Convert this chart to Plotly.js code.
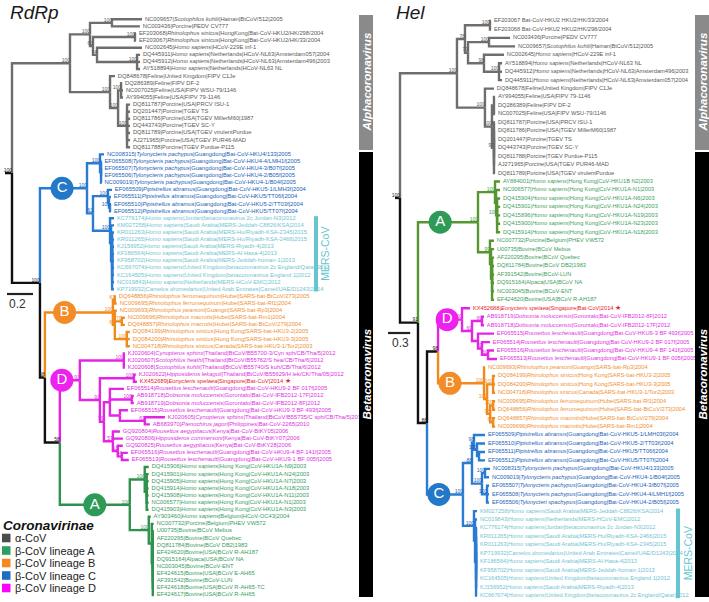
<!DOCTYPE html>
<html><head><meta charset="utf-8">
<script src="https://cdn.plot.ly/plotly-3.0.1.min.js"></script>
<style>html,body{margin:0;padding:0;background:#fff;}#chart{width:709px;height:602px;}</style>
</head><body><div id="chart"></div>
<script>
// ================= DATA =================
const rdrpLabels = [
"NC009657|Scotophilus kuhlii|Hainan|BtCoV/512|2005","NC003436|Porcine|PEDV CV777",
"EF203068|Rhinolophus sinicus|HongKong|Bat-CoV-HKU2/HK/298/2004","EF203067|Rhinolophus sinicus|HongKong|Bat-CoV-HKU2/HK/33/2004",
"NC002645|Homo sapiens|HCoV-229E inf-1","DQ445911|Homo sapiens|Netherlands|HCoV-NL63|Amsterdam057|2004",
"DQ445912|Homo sapiens|Netherlands|HCoV-NL63|Amsterdam496|2003","AY518894|Homo sapiens|Netherlands|HCoV-NL63 NL",
"DQ848678|Feline|United Kingdom|FIPV C1Je","DQ286389|Feline|FIPV DF-2","NC007025|Feline|USA|FIPV WSU-79/1146",
"AY994055|Feline|USA|FIPV 79-1146","DQ811787|Porcine|USA|PRCV ISU-1","DQ201447|Porcine|TGEV TS",
"DQ811786|Porcine|USA|TGEV MillerM60|1987","DQ443743|Porcine|TGEV SC-Y","DQ811789|Porcine|USA|TGEV virulentPurdue",
"AJ271965|Porcine|USA|TGEV PUR46-MAD","DQ811788|Porcine|TGEV Purdue-P115",
"NC008315|Tylonycteris pachypus|Guangdong|Bat-CoV-HKU4/133|2005","EF065508|Tylonycteris pachypus|Guangdong|Bat-CoV-HKU4-4/LMH1f|2005",
"EF065507|Tylonycteris pachypus|Guangdong|Bat-CoV-HKU4-3/B07f|2005","EF065506|Tylonycteris pachypus|Guangdong|Bat-CoV-HKU4-2/B05f|2005",
"NC009019|Tylonycteris pachypus|Guangdong|Bat-CoV-HKU4-1/B04f|2005","EF065509|Pipistrellus abramus|Guangdong|Bat-CoV-HKU5-1/LMH3f|2004",
"EF065511|Pipistrellus abramus|Guangdong|Bat-CoV-HKU5/TT06f|2004","EF065510|Pipistrellus abramus|Guangdong|Bat-CoV-HKU5-2/TT03f|2004",
"EF065512|Pipistrellus abramus|Guangdong|Bat-CoV-HKU5/TT07f|2004",
"KC776174|Homo sapiens|Jordan|betacoronavirus 2c Jordan-N3|2012","KM027258|Homo sapiens|Saudi Arabia|MERS-Jeddah-C8826/KSA|2014",
"KR011263|Homo sapiens|Saudi Arabia|MERS-Hu/Riyadh-KSA-2345|2015","KR011265|Homo sapiens|Saudi Arabia|MERS-Hu/Riyadh-KSA-2466|2015",
"KJ156952|Homo sapiens|Saudi Arabia|MERS-Riyadh-4|2013","KF186564|Homo sapiens|Saudi Arabia|MERS-Al-Hasa-4|2013",
"KF958702|Homo sapiens|Saudi Arabia|MERS-Jeddah-human-1|2013","KC667074|Homo sapiens|United Kingdom|betacoronavirus 2c England/Qatar|2012",
"KC164505|Homo sapiens|United Kingdom|betacoronavirus England 1|2012","NC019843|Homo sapiens|Netherlands|MERS-HCoV-EMC|2012",
"KP719932|Camelus dromedarius|United Arab Emirates|Camel/UAE/D1243|2014",
"DQ648856|Rhinolophus ferrumequinum|Hubei|SARS-bat-BtCoV/273|2005","NC009695|Rhinolophus ferrumequinum|Hubei|SARS-bat-Rf1|2004",
"NC009693|Rhinolophus pearsoni|Guangxi|SARS-bat-Rp3|2004","NC009696|Rhinolophus macrotis|Hubei|SARS-bat-Rm1|2004",
"DQ648857|Rhinolophus macrotis|Hubei|SARS-bat-BtCoV/279|2004","DQ084199|Rhinolophus sinicus|Hong Kong|SARS-bat-HKU3-2|2005",
"DQ084200|Rhinolophus sinicus|Hong Kong|SARS-bat-HKU3-3|2005","NC004718|Rhinolophus sinicus|Canada|SARS-bat-HKU3-1/Tor2|2003",
"KJ020604|Cynopterus sphinx|Thailand|BtCoV/B55700-3/Cyn sph/CB/Tha/5|2012","KJ020607|Scotophilus heathi|Thailand|BtCoV/B55762/S hea/CB/Tha/6|2012",
"KJ020608|Scotophilus kuhlii|Thailand|BtCoV/B55740/S kuh/CB/Tha/6|2012","KJ020622|Hipposideros lekaguli|Thailand|BtCoV/B55629/H lek/CK/Tha/05|2012",
"KX452689|Eonycteris spelaea|Singapore|Bat-CoV|2014","EF065514|Rousettus leschenaulti|Guangdong|Bat-CoV-HKU9-2 BF 017f|2005",
"AB918718|Dobsonia moluccensis|Gorontalo|Bat-CoV-IFB2012-17F|2012","AB918719|Dobsonia moluccensis|Gorontalo|Bat-CoV-IFB2012-8F|2012",
"EF065515|Rousettus leschenaulti|Guangdong|Bat-CoV-HKU9-3 BF 493f|2005","KJ020605|Cynopterus sphinx|Thailand|BtCoV/B55735/C sph/CB/Tha/5|2012",
"AB683970|Ptenochirus jagori|Philippines|Bat-CoV-2265|2010","GQ920804|Rousettus aegyptiacus|Kenya|Bat-CoV-BtKY05|2006",
"GQ920806|Hipposideros commersoni|Kenya|Bat-CoV-BtKY07|2006","GQ920825|Rousettus aegyptiacus|Kenya|Bat-CoV-BtKY28|2006",
"EF065516|Rousettus leschenaulti|Guangdong|Bat-CoV-HKU9-4 BF 141f|2005","EF065513|Rousettus leschenaulti|Guangdong|Bat-CoV-HKU9-1 BF 005f|2005",
"DQ415906|Homo sapiens|Hong Kong|CoV-HKU1A-N9|2003","DQ415901|Homo sapiens|Hong Kong|CoV-HKU1A-N24|2003",
"DQ415905|Homo sapiens|Hong Kong|CoV-HKU1A-N7|2003","DQ415914|Homo sapiens|Hong Kong|CoV-HKU1A-N18|2003",
"DQ415908|Homo sapiens|Hong Kong|CoV-HKU1A-N11|2003","NC006577|Homo sapiens|Hong Kong|CoV-HKU1A-N1|2003",
"DQ415903|Homo sapiens|Hong Kong|CoV-HKU1A-N3|2003","AY903460|Homo sapiens|Belgium|HCoV-OC43|2004",
"NC007732|Porcine|Belgium|PHEV VW572","U00735|Bovine|BCoV Mebus","AF220295|Bovine|BCoV Quebec","DQ811784|Bovine|BCoV DB2|1983",
"EF424620|Bovine|USA|BCoV R-AH187","DQ915164|Alpaca|USA|BCoV NA","NC003045|Bovine|BCoV-ENT","EF424615|Bovine|USA|BCoV E-AH65",
"AF391542|Bovine|BCoV-LUN","EF424618|Bovine|USA|BCoV R-AH65-TC","EF424617|Bovine|USA|BCoV R-AH65"
];
// RdRp tree: tips are indices into rdrpLabels; internal labels = bootstrap support (#clade start); lengths in substitutions/site
const rdrpTree = `(
 (((0:0.231,1:0.215)100:0.169,((2:0.008,3:0.008)100:0.323,(4:0.346,(5:0.023,6:0.023,7:0.023)100:0.308)74:0.031)63:0.023)100:0.154,
  (8:0.038,((9:0.008,10:0.015,11:0.015)100:0.023,(12:0.023,13:0.023,14:0.023,15:0.023,16:0.023,17:0.023,18:0.023)100:0.069)100:0.062)100:0.308)100#a:0.446,
 (((19:0.031,(20:0.004,21:0.004,22:0.004,23:0.004):0.008)100:0.1,
   ((24:0.031,(25:0.015,(26:0.008,27:0.008)100:0.008):0.008)100:0.115,
    (28:0.031,(29:0.023,(30:0.015,31:0.015,32:0.015,33:0.015,34:0.015,35:0.015,36:0.015,37:0.015,38:0.015):0.008):0.008)100:0.131)63:0.046)100#C:0.362,
  (((39:0.008,40:0.015)83:0.015,(41:0.015,(42:0.023,43:0.023)70:0.054,(44:0.023,45:0.023,46:0.023)100:0.092)62:0.015)100#B:0.523,
   (((47:0.008,48:0.008,49:0.008)100:0.338,
     ((50:0.015,51:0.023)100:0.262,
      ((52:0.108,(53:0.015,54:0.015)100:0.169,(55:0.062,(56:0.154,57:0.038)81:0.192):0.077):0.046,
       (58:0.054,59:0.077,(60:0.038,(61:0.046,62:0.054)54:0.031)61:0.038)57:0.069)59:0.031)93:0.154)93#D:0.154,
    ((63:0.031,(64:0.015,65:0.015,66:0.015,67:0.015,68:0.015,69:0.015):0.015)100:0.115,
     (70:0.015,(71:0.015,(72:0.008,73:0.008,74:0.008,75:0.008,76:0.008,77:0.008,78:0.008,79:0.008,80:0.008,81:0.008):0.008):0.023)100:0.146)100#A:0.538)58:0.115)58:0.038)100:0.215
)100:0.054;`;
const rdrpMersTips = [28,29,30,31,32,33,34,35,36,37,38];
const rdrpNewTip = 51;

const helLabels = [
"EF203067 Bat-CoV-HKU2 HKU2/HK/33/2004","EF203068 Bat-CoV-HKU2 HKU2/HK/298/2004","NC003436|Porcine|PEDV CV777",
"NC009657|Scotophilus kuhlii|Hainan|BtCoV/512|2005","NC002645|Homo sapiens|HCoV-229E inf-1",
"AY518894|Homo sapiens|Netherlands|HCoV-NL63 NL","DQ445912|Homo sapiens|Netherlands|HCoV-NL63|Amsterdam496|2003",
"DQ445911|Homo sapiens|Netherlands|HCoV-NL63|Amsterdam057|2004","DQ848678|Feline|United Kingdom|FIPV C1Je",
"AY994055|Feline|USA|FIPV 79-1146","DQ286389|Feline|FIPV DF-2","NC007025|Feline|USA|FIPV WSU-79/1146",
"DQ811787|Porcine|USA|PRCV ISU-1","DQ811786|Porcine|USA|TGEV MillerM60|1987","DQ201447|Porcine|TGEV TS",
"DQ443743|Porcine|TGEV SC-Y","DQ811788|Porcine|TGEV Purdue-P115","AJ271965|Porcine|USA|TGEV PUR46-MAD",
"DQ811789|Porcine|USA|TGEV virulentPurdue",
"AY884001|Homo sapiens|Hong Kong|CoV-HKU1B N2|2003","NC006577|Homo sapiens|Hong Kong|CoV-HKU1A-N1|2003",
"DQ415904|Homo sapiens|Hong Kong|CoV-HKU1A-N6|2003","DQ415901|Homo sapiens|Hong Kong|CoV-HKU1A-N24|2003",
"DQ415896|Homo sapiens|Hong Kong|CoV-HKU1A-N19|2003","DQ415900|Homo sapiens|Hong Kong|CoV-HKU1A-N23|2003",
"DQ415914|Homo sapiens|Hong Kong|CoV-HKU1A-N18|2003","NC007732|Porcine|Belgium|PHEV VW572","U00735|Bovine|BCoV Mebus",
"AF220295|Bovine|BCoV Quebec","DQ811784|Bovine|BCoV DB2|1983","AF391542|Bovine|BCoV-LUN","DQ915164|Alpaca|USA|BCoV NA",
"NC003045|Bovine|BCoV-ENT","EF424620|Bovine|USA|BCoV R-AH187",
"KX452688|Eonycteris spelaea|Singapore|Bat-CoV|2014","AB918719|Dobsonia moluccensis|Gorontalo|Bat-CoV-IFB2012-8F|2012",
"AB918718|Dobsonia moluccensis|Gorontalo|Bat-CoV-IFB2012-17F|2012","EF065515|Rousettus leschenaulti|Guangdong|Bat-CoV-HKU9-3 BF 493f|2005",
"EF065514|Rousettus leschenaulti|Guangdong|Bat-CoV-HKU9-2 BF 017f|2005","EF065516|Rousettus leschenaulti|Guangdong|Bat-CoV-HKU9-4 BF 141f|2005",
"EF065513|Rousettus leschenaulti|Guangdong|Bat-CoV-HKU9-1 BF 005f|2005",
"NC009693|Rhinolophus pearsoni|Guangxi|SARS-bat-Rp3|2004","DQ084199|Rhinolophus sinicus|Hong Kong|SARS-bat-HKU3-2|2005",
"DQ084200|Rhinolophus sinicus|Hong Kong|SARS-bat-HKU3-3|2005","NC004718|Rhinolophus sinicus|Canada|SARS-bat-HKU3-1/Tor2|2003",
"NC009695|Rhinolophus ferrumequinum|Hubei|SARS-bat-Rf1|2004","DQ648856|Rhinolophus ferrumequinum|Hubei|SARS-bat-BtCoV/273|2004",
"DQ648857|Rhinolophus macrotis|Hubei|SARS-bat-BtCoV/279|2004","NC009696|Rhinolophus macrotis|Hubei|SARS-bat-Rm1|2004",
"EF065509|Pipistrellus abramus|Guangdong|Bat-CoV-HKU5-1/LMH03f|2004","EF065510|Pipistrellus abramus|Guangdong|Bat-CoV-HKU5-2/TT03f|2004",
"EF065511|Pipistrellus abramus|Guangdong|Bat-CoV-HKU5/TT06f|2004","EF065512|Pipistrellus abramus|Guangdong|Bat-CoV-HKU5/TT07f|2004",
"NC008315|Tylonycteris pachypus|Guangdong|Bat-CoV-HKU4/133|2005","NC009019|Tylonycteris pachypus|Guangdong|Bat-CoV-HKU4-1/B04f|2005",
"EF065507|Tylonycteris pachypus|Guangdong|Bat-CoV-HKU4-3/B07f|2005","EF065508|Tylonycteris pachypus|Guangdong|Bat-CoV-HKU4-4/LMH1f|2005",
"EF065506|Tylonycteri spachypus|Guangdong|Bat-CoV-HKU4-2/B05f|2005",
"KM027258|Homo sapiens|Saudi Arabia|MERS-Jeddah-C8826/KSA|2014","NC019843|Homo sapiens|Netherlands|MERS-HCoV-EMC|2012",
"KC776174|Homo sapiens|Jordan|betacoronavirus 2c Jordan-N3|2012","KR011265|Homo sapiens|Saudi Arabia|MERS-Hu/Riyadh-KSA-2466|2015",
"KR011263|Homo sapiens|Saudi Arabia|MERS-Hu/Riyadh-KSA-2345|2015","KP719932|Camelus dromedarius|United Arab Emirates|Camel/UAE/D1243|2014",
"KF186564|Homo sapiens|Saudi Arabia|MERS-Al-Hasa-4|2013","KF958702|Homo sapiens|Saudi Arabia|MERS-Jeddah-human-1|2013",
"KC164505|Homo sapiens|United Kingdom|betacoronavirus England 1|2012","KJ156952|Homo sapiens|Saudi Arabia|MERS-Riyadh-4|2013",
"KC667074|Homo sapiens|United Kingdom|betacoronavirus 2c England/Qatar|2012"
];
const helTree = `(
 (((0:0.014,1:0.014)100:0.338,((2:0.284,3:0.351)100:0.284,(4:0.270,(5:0.041,6:0.041,7:0.041)100:0.203)98:0.216)79:0.041)78:0.108,
  (8:0.122,((9:0.014,10:0.014,11:0.014):0.027,(12:0.014,13:0.014,14:0.014,15:0.014,16:0.014,17:0.014,18:0.014)97:0.027)100:0.095)100:0.378)100#a:0.770,
 (((19:0.068,(20:0.054,(21:0.041,22:0.041,23:0.041,24:0.041,25:0.041)100:0.014):0.014)100:0.230,
   (26:0.054,(27:0.041,(28:0.027,29:0.027,30:0.027,31:0.027,32:0.027,33:0.027):0.014):0.014)99:0.162)100#A:0.811,
  (((34:0.108,((35:0.027,36:0.027)99:0.135,(37:0.216,(38:0.108,(39:0.081,40:0.122)69:0.081)59:0.054):0.081)69:0.135)100#D:0.324,
    (41:0.014,((42:0.027,43:0.027,44:0.027)100:0.081,((45:0.027,46:0.027)100:0.041,(47:0.027,48:0.027)85:0.041)98:0.041)100:0.041)100#B:0.622)98:0.149,
   (((49:0.149,(50:0.108,(51:0.081,52:0.081):0.027)100:0.041)98:0.027,
     ((53:0.068,54:0.054)100:0.041,(55:0.027,56:0.027,57:0.027)100:0.068)100:0.135)88:0.122,
    (58:0.041,(59:0.027,(60:0.014,61:0.014,62:0.014,63:0.014,64:0.014,65:0.014,66:0.014,67:0.014,68:0.014):0.014):0.014)100:0.149)100#C:0.486)88:0.122)91:0.243
)100:0.068;`;
const helMersTips = [58,59,60,61,62,63,64,65,66,67,68];
const helNewTip = 34;

const legendTitle = "Coronavirinae";
const legendNames = ["α-CoV","β-CoV lineage A","β-CoV lineage B","β-CoV lineage C","β-CoV lineage D"];
const genusNames = ["Alphacoronavirus","Betacoronavirus"];
const scaleBars = [0.2, 0.3];

// ================= STYLE =================
const W=709, H=602;
const FONT="Liberation Sans, Arial, sans-serif";
const legendColors=["#4d4d4d","#2e9e5e","#f4891f","#1b6ec2","#ff00ff"];
const mersColor="#72c4d4", newColor="#e8222a";
const cfgR={tree:rdrpTree,labels:rdrpLabels,mers:rdrpMersTips,hi:rdrpNewTip,xa:'x',ya:'y',
  x0px:12,ppu:130,y0px:19.3,dy:7.107,labelSize:5.8,supSize:5,lw:2.4,
  branch:{root:'#111111',a:'#6e6e6e',A:'#2f914e',B:'#f08a1c',C:'#2a7bd2',D:'#e426e4'},
  label:{a:'#5a5a5a',A:'#3a9d62',B:'#f09030',C:'#1a5fb8',D:'#e030e0'},
  badge:{A:'#2e9a58',B:'#f28c28',C:'#2478c8',D:'#ee22ee'},
  badgeFrac:{A:0.5,B:0.29,C:0.47,D:0.1}};
const cfgH={tree:helTree,labels:helLabels,mers:helMersTips,hi:helNewTip,xa:'x2',ya:'y2',
  x0px:400,ppu:74,y0px:21,dy:8.45,labelSize:5.7,supSize:5,lw:2.4,
  branch:{root:'#111111',a:'#6e6e6e',A:'#55962f',B:'#f08a1c',C:'#2a7bd2',D:'#e426e4'},
  label:{a:'#5a5a5a',A:'#3ea060',B:'#f09030',C:'#1a5fb8',D:'#e030e0'},
  badge:{A:'#2e9a58',B:'#f28c28',C:'#2478c8',D:'#ee22ee'},
  badgeFrac:{A:0.37,B:0.26,C:0.33,D:0.38}};

// ================= BUILD =================
function parseNewick(str){
  const s=str.replace(/\s+/g,'').replace(/;$/,'');
  let i=0;
  function node(){
    const n={children:[]};
    if(s[i]==='('){ i++; for(;;){ n.children.push(node()); if(s[i]===','){i++;} else {i++;break;} } }
    let name=''; while(i<s.length && ':,()'.indexOf(s[i])<0) name+=s[i++];
    let len=0;
    if(s[i]===':'){ i++; let num=''; while(i<s.length && ',()'.indexOf(s[i])<0) num+=s[i++]; len=parseFloat(num); }
    n.name=name; n.len=len; return n;
  }
  return node();
}
function placeTree(root){
  const nodes=[];
  (function walk(n,parentX,parentClade){
    n.px=parentX; n.x=parentX+n.len;
    if(n.children.length){
      const p=n.name.split('#'); n.support=p[0]; n.mark=p[1]||null; n.clade=n.mark||parentClade;
      n.children.forEach(c=>walk(c,n.x,n.clade));
      n.y=(n.children[0].y+n.children[n.children.length-1].y)/2;
    } else { n.leaf=parseInt(n.name,10); n.y=n.leaf; n.clade=parentClade; }
    nodes.push(n);
  })(root,-root.len,'root');
  return nodes;
}
function fmtLabel(s){
  const p=s.split('|');
  if(p.length>1 && /^[A-Z][a-z]+ [a-z]+$/.test(p[1])) p[1]='<i>'+p[1]+'</i>';
  return p.join('|');
}
function treeTraces(c){
  const root=parseNewick(c.tree), nodes=placeTree(root), out=[];
  const segs={};
  const add=(col,xs,ys)=>{ if(!segs[col]) segs[col]={x:[],y:[]}; segs[col].x.push(...xs,null); segs[col].y.push(...ys,null); };
  add(c.branch[root.clade],[root.px,root.x],[root.y,root.y]);
  nodes.forEach(n=>n.children.forEach(ch=>add(c.branch[ch.clade],[n.x,n.x,ch.x],[n.y,ch.y,ch.y])));
  Object.keys(segs).forEach(col=>out.push({type:'scatter',mode:'lines',x:segs[col].x,y:segs[col].y,xaxis:c.xa,yaxis:c.ya,
    line:{color:col,width:c.lw},hoverinfo:'skip',cliponaxis:false}));
  // tip labels
  const g={};
  nodes.filter(n=>!n.children.length).forEach(n=>{
    let key=n.clade, col=c.label[n.clade], txt=fmtLabel(c.labels[n.leaf]);
    if(c.mers.indexOf(n.leaf)>=0){key='mers';col=mersColor;}
    else if(n.leaf===c.hi){key='hi';col=newColor; txt=txt+' <span style="font-size:7px">★</span>';}
    if(!g[key]) g[key]={x:[],y:[],t:[],col:col};
    g[key].x.push(n.x); g[key].y.push(n.y); g[key].t.push(txt);
  });
  Object.values(g).forEach(d=>out.push({type:'scatter',mode:'markers+text',x:d.x,y:d.y,text:d.t,xaxis:c.xa,yaxis:c.ya,
    marker:{size:3,opacity:0},textposition:'middle right',textfont:{family:FONT,size:c.labelSize,color:d.col},hoverinfo:'skip',cliponaxis:false}));
  // support values
  const s={};
  nodes.filter(n=>n.children.length && n.support).forEach(n=>{
    const col=n.clade==='root'?'#222':(c.label[n.clade]||'#222');
    if(!s[col]) s[col]={x:[],y:[],t:[]};
    s[col].x.push(n.x); s[col].y.push(n.y); s[col].t.push(n.support);
  });
  Object.keys(s).forEach(col=>out.push({type:'scatter',mode:'text',x:s[col].x,y:s[col].y,text:s[col].t,xaxis:c.xa,yaxis:c.ya,
    textposition:'top left',textfont:{family:FONT,size:c.supSize,color:col},hoverinfo:'skip',cliponaxis:false}));
  // clade badges
  nodes.filter(n=>n.mark && c.badge[n.mark]).forEach(n=>{
    const f=c.badgeFrac[n.mark];
    out.push({type:'scatter',mode:'markers+text',x:[n.px+f*(n.x-n.px)],y:[n.y],text:[n.mark],xaxis:c.xa,yaxis:c.ya,
      marker:{size:23,color:c.badge[n.mark],line:{width:0}},textposition:'middle center',
      textfont:{family:FONT,size:15,color:'#ffffff'},hoverinfo:'skip',cliponaxis:false});
  });
  return out;
}
const traces=[...treeTraces(cfgR),...treeTraces(cfgH)];

const px=p=>p/W, py=p=>1-p/H;
const shapes=[], ann=[];
// genus bars
[[359,373],[695,709]].forEach(b=>{
  shapes.push({type:'rect',xref:'paper',yref:'paper',x0:px(b[0]),x1:px(b[1]),y0:py(150),y1:py(15),fillcolor:'#8a8a8a',line:{width:0}});
  shapes.push({type:'rect',xref:'paper',yref:'paper',x0:px(b[0]),x1:px(b[1]),y0:py(597),y1:py(152),fillcolor:'#000000',line:{width:0}});
  ann.push({xref:'paper',yref:'paper',x:px((b[0]+b[1])/2),y:py(82.5),text:'<b><i>'+genusNames[0]+'</i></b>',textangle:-90,showarrow:false,
    font:{family:FONT,size:11.5,color:'#ffffff'},xanchor:'center',yanchor:'middle'});
  ann.push({xref:'paper',yref:'paper',x:px((b[0]+b[1])/2),y:py(374.5),text:'<b><i>'+genusNames[1]+'</i></b>',textangle:-90,showarrow:false,
    font:{family:FONT,size:11.5,color:'#ffffff'},xanchor:'center',yanchor:'middle'});
});
// MERS bars
[[cfgR,rdrpMersTips,316,325],[cfgH,helMersTips,678,688]].forEach(m=>{
  const t=m[1], ya=m[0].ya;
  shapes.push({type:'line',xref:'paper',yref:ya,x0:px(m[2]),x1:px(m[2]),y0:t[0]-0.3,y1:t[t.length-1]+0.3,line:{color:'#66c6cf',width:4}});
  ann.push({xref:'paper',yref:ya,x:px(m[3]),y:(t[0]+t[t.length-1])/2,text:'MERS-CoV',textangle:-90,showarrow:false,
    font:{family:FONT,size:10.5,color:'#66c6cf'},xanchor:'center',yanchor:'middle'});
});
// scale bars
[[cfgR,scaleBars[0],7,294,17,304],[cfgH,scaleBars[1],388,333,400,343]].forEach(s=>{
  const c=s[0], x0=(s[2]-c.x0px)/c.ppu;
  shapes.push({type:'line',xref:c.xa,yref:'paper',x0:x0,x1:x0+s[1],y0:py(s[3]),y1:py(s[3]),line:{color:'#222',width:2.2}});
  ann.push({xref:'paper',yref:'paper',x:px(s[4]),y:py(s[5]),text:s[1].toFixed(1),showarrow:false,font:{family:FONT,size:12,color:'#333'},xanchor:'center',yanchor:'middle'});
});
// panel titles
ann.push({xref:'paper',yref:'paper',x:px(8),y:py(13),text:'<i>RdRp</i>',showarrow:false,font:{family:FONT,size:19,color:'#1a1a1a'},xanchor:'left',yanchor:'middle'});
ann.push({xref:'paper',yref:'paper',x:px(394),y:py(13),text:'<i>Hel</i>',showarrow:false,font:{family:FONT,size:19,color:'#1a1a1a'},xanchor:'left',yanchor:'middle'});
// legend
ann.push({xref:'paper',yref:'paper',x:px(1),y:py(525),text:'<b><i>'+legendTitle+'</i></b>',showarrow:false,font:{family:FONT,size:13.5,color:'#111'},xanchor:'left',yanchor:'middle'});
legendNames.forEach((nm,i)=>{
  const yy=538+i*12.5;
  shapes.push({type:'rect',xref:'paper',yref:'paper',x0:px(2),x1:px(10.5),y0:py(yy+4.3),y1:py(yy-4.3),fillcolor:legendColors[i],line:{width:0}});
  ann.push({xref:'paper',yref:'paper',x:px(13),y:py(yy),text:nm,showarrow:false,font:{family:FONT,size:11,color:'#222'},xanchor:'left',yanchor:'middle'});
});

const layout={width:W,height:H,margin:{l:0,r:0,t:0,b:0},paper_bgcolor:'#ffffff',plot_bgcolor:'rgba(0,0,0,0)',showlegend:false,
  xaxis:{domain:[0,1],range:[-cfgR.x0px/cfgR.ppu,(W-cfgR.x0px)/cfgR.ppu],visible:false,anchor:'y'},
  yaxis:{domain:[0,1],range:[(H-cfgR.y0px)/cfgR.dy,-cfgR.y0px/cfgR.dy],visible:false,anchor:'x'},
  xaxis2:{domain:[0,1],overlaying:'x',range:[-cfgH.x0px/cfgH.ppu,(W-cfgH.x0px)/cfgH.ppu],visible:false,anchor:'y2'},
  yaxis2:{domain:[0,1],overlaying:'y',range:[(H-cfgH.y0px)/cfgH.dy,-cfgH.y0px/cfgH.dy],visible:false,anchor:'x2'},
  shapes:shapes,annotations:ann};
Plotly.newPlot('chart',traces,layout,{staticPlot:true,displayModeBar:false});
</script></body></html>
